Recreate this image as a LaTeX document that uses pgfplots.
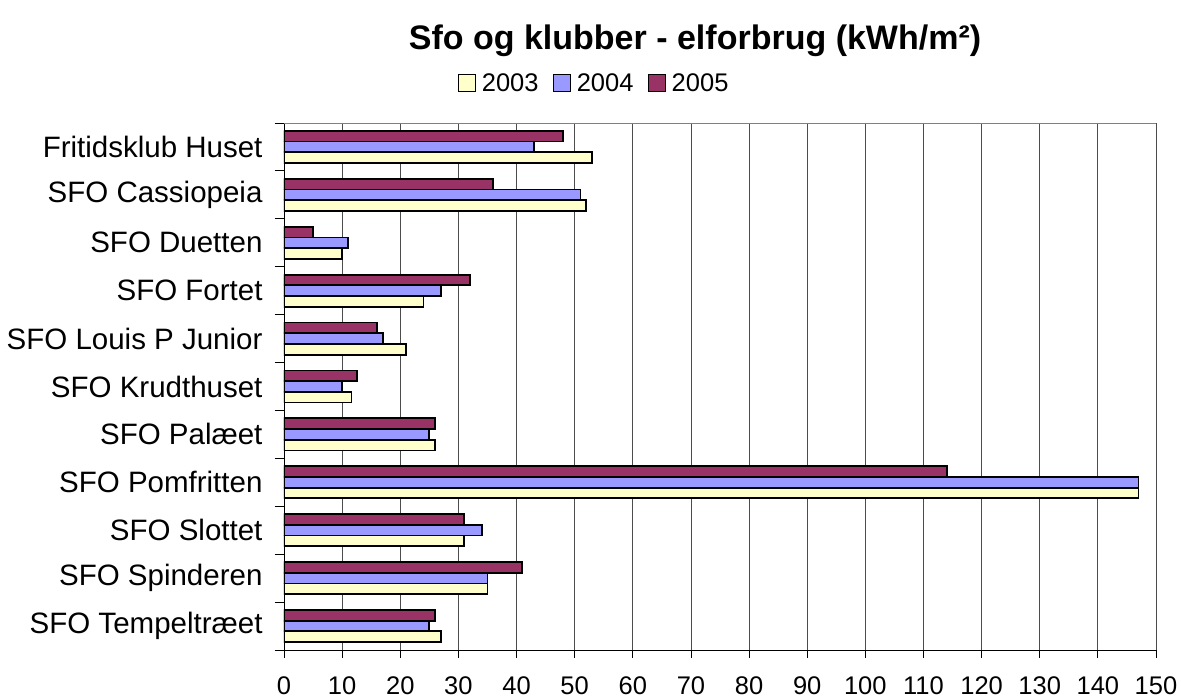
\documentclass[border=0pt]{standalone}
\usepackage{pgfplots}
\pgfplotsset{compat=1.18}
\usepackage{fontspec}
\setmainfont{Liberation Sans}
\definecolor{c2003}{HTML}{FFFFCC}
\definecolor{c2004}{HTML}{9999FF}
\definecolor{c2005}{HTML}{993366}
\begin{document}
\begin{tikzpicture}
\path[use as bounding box] (0pt,0pt) rectangle (1181pt,700pt);
\begin{axis}[
  at={(284pt,50pt)}, anchor=south west,
  scale only axis, width=872pt, height=527pt,
  xbar, bar width=10.7pt,
  xmin=0, xmax=150, ymin=-0.5, ymax=10.5,
  xtick={0,10,...,150},
  ytick={0,...,10},
  yticklabels={SFO Tempeltræet,SFO Spinderen,SFO Slottet,SFO Pomfritten,SFO Palæet,SFO Krudthuset,SFO Louis P Junior,SFO Fortet,SFO Duetten,SFO Cassiopeia,Fritidsklub Huset},
  minor ytick={-0.5,0.5,...,10.5},
  tick align=outside, tick pos=left,
  major tick length=8pt, minor tick length=9pt,
  every major y tick/.append style={draw=none},
  every tick/.append style={black, line width=0.8pt},
  xmajorgrids, grid style={black!70, line width=0.8pt},
  axis line style={black, line width=0.8pt},
  separate axis lines,
  axis x line*=bottom, axis y line*=left,
  /pgf/number format/assume math mode=true,
  xticklabel style={font=\fontsize{25.5}{27}\selectfont, yshift=-15pt},
  yticklabel style={font=\fontsize{29.5}{31}\selectfont, xshift=-10pt},
  legend columns=3,
  legend style={at={(0.355,1.076)}, anchor=center, draw=none, fill=none,
    font=\fontsize{25.5}{27}\selectfont,
    /tikz/every odd column/.append style={column sep=5pt},
    /tikz/every even column/.append style={column sep=13pt},
    nodes={inner sep=1pt}},
  legend image code/.code={\draw[#1, line width=1.2pt, bar shift=0pt] (0pt,-8.5pt) rectangle (17pt,8.5pt);},
]
\addplot[fill=c2003, draw=black, line width=1.8pt, bar shift=-10.7pt] coordinates {
 (27,0) (35,1) (31,2) (147,3) (26,4) (11.6,5) (21,6) (24,7) (10,8) (52,9) (53,10)};
\addplot[fill=c2004, draw=black, line width=1.8pt, bar shift=0pt] coordinates {
 (25,0) (35,1) (34,2) (147,3) (25,4) (10,5) (17,6) (27,7) (11,8) (51,9) (43,10)};
\addplot[fill=c2005, draw=black, line width=1.8pt, bar shift=10.7pt] coordinates {
 (26,0) (41,1) (31,2) (114,3) (26,4) (12.6,5) (16,6) (32,7) (5,8) (36,9) (48,10)};
\legend{2003,2004,2005}
\draw[gray, line width=0.8pt] (rel axis cs:0,1) -- (rel axis cs:1,1);
\end{axis}
\node[font=\bfseries\fontsize{34}{36}\selectfont, anchor=center] at (695pt,659pt) {Sfo og klubber - elforbrug (kWh/m²)};
\end{tikzpicture}
\end{document}
